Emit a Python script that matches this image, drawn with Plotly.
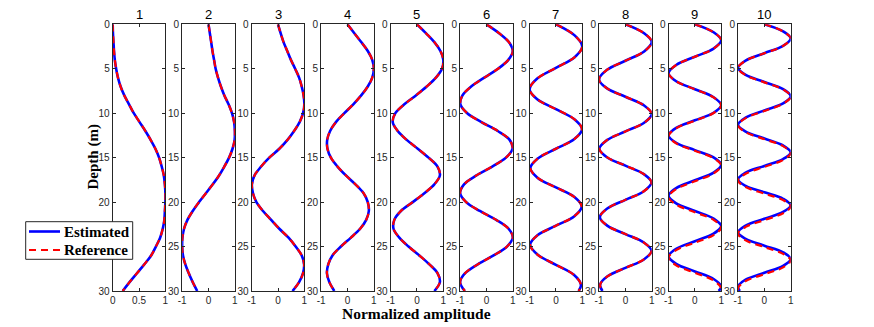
import plotly.graph_objects as go
from plotly.subplots import make_subplots

# depth grid (m) used for the low-order modes
depth_1m = [0, 1, 2, 3, 4, 5, 6, 7, 8, 9, 10, 11, 12, 13, 14, 15, 16, 17, 18, 19, 20,
            21, 22, 23, 24, 25, 26, 27, 28, 29, 30]

# normalized mode amplitudes
mode1 = [0, 0.005, 0.015, 0.025, 0.04, 0.065, 0.1, 0.15, 0.22, 0.31, 0.4, 0.51, 0.62, 0.72, 0.81,
         0.88, 0.93, 0.97, 0.99, 1.0, 1.0, 0.99, 0.98, 0.95, 0.9, 0.82, 0.73, 0.6, 0.46, 0.32, 0.19]
mode2 = [0, 0.05, 0.1, 0.15, 0.21, 0.27, 0.36, 0.47, 0.6, 0.76, 0.89, 0.97, 1.0, 0.99, 0.91,
         0.78, 0.6, 0.4, 0.16, -0.1, -0.36, -0.6, -0.8, -0.93, -0.99, -1.0, -0.97, -0.88, -0.75, -0.6, -0.43]
mode3 = [0, 0.1, 0.21, 0.35, 0.49, 0.65, 0.8, 0.9, 0.97, 1.0, 0.95, 0.82, 0.61, 0.36, 0.05,
         -0.33, -0.64, -0.89, -0.99, -0.95, -0.82, -0.57, -0.26, 0.05, 0.4, 0.67, 0.9, 0.99, 0.95, 0.8, 0.55]
mode4 = [0, 0.26, 0.52, 0.77, 0.94, 1.0, 0.94, 0.77, 0.52, 0.22, -0.12, -0.44, -0.66, -0.77, -0.76,
         -0.63, -0.38, -0.06, 0.3, 0.61, 0.77, 0.81, 0.71, 0.48, 0.13, -0.25, -0.57, -0.73, -0.78, -0.69, -0.5]
mode5 = [0, 0.34, 0.66, 0.89, 1.0, 0.95, 0.72, 0.37, -0.04, -0.48, -0.82, -0.92, -0.73, -0.39, 0.03,
         0.44, 0.78, 0.87, 0.66, 0.28, -0.16, -0.61, -0.86, -0.89, -0.67, -0.32, 0.09, 0.47, 0.78, 0.87, 0.66]
mode6 = [0, 0.48, 0.85, 1.0, 0.83, 0.44, -0.08, -0.58, -0.91, -0.99, -0.73, -0.19, 0.43, 0.88, 0.99,
         0.74, 0.22, -0.38, -0.85, -1.0, -0.77, -0.25, 0.37, 0.84, 1.0, 0.78, 0.27, -0.33, -0.81, -1.0, -0.82]

# higher modes: picked at peaks, crossings and half-way points
depth7 = [0, 1.25, 2.5, 3.7, 4.9, 6.1, 7.3, 8.43, 9.55, 10.68, 11.8, 12.9, 14.0, 15.1, 16.2,
          17.28, 18.35, 19.43, 20.5, 21.58, 22.65, 23.73, 24.8, 25.93, 27.05, 28.18, 29.3, 30]
mode7 = [0, 0.71, 1.0, 0.71, 0, -0.71, -1.0, -0.71, 0, 0.7, 0.99, 0.7, 0, -0.69, -0.97,
         -0.69, 0, 0.7, 0.98, 0.7, 0, -0.7, -0.98, -0.69, 0, 0.68, 0.95, 0.86]

depth8 = [0, 1.0, 2.0, 3.05, 4.1, 5.15, 6.2, 7.18, 8.15, 9.13, 10.1, 11.08, 12.05, 13.03, 14.0,
          14.95, 15.9, 16.85, 17.8, 18.78, 19.75, 20.73, 21.7, 22.65, 23.6, 24.55, 25.5, 26.45,
          27.4, 28.35, 29.3, 30]
mode8 = [0, 0.71, 1.0, 0.71, 0, -0.71, -1.0, -0.71, 0, 0.71, 1.0, 0.71, 0, -0.7, -0.99,
         -0.7, 0, 0.7, 0.99, 0.7, 0, -0.69, -0.97, -0.69, 0, 0.7, 0.99, 0.7,
         0, -0.68, -0.96, -0.87]

depth9 = [0, 0.9, 1.8, 2.73, 3.65, 4.58, 5.5, 6.4, 7.3, 8.2, 9.1, 9.95, 10.8, 11.65, 12.5,
          13.33, 14.15, 14.98, 15.8, 16.68, 17.55, 18.43, 19.3, 20.15, 21.0, 21.85, 22.7,
          23.55, 24.4, 25.25, 26.1, 26.95, 27.8, 28.65, 29.5, 30]
mode9 = [0, 0.71, 1.0, 0.71, 0, -0.71, -1.0, -0.71, 0, 0.71, 1.0, 0.71, 0, -0.71, -1.0,
         -0.71, 0, 0.71, 1.0, 0.71, 0, -0.71, -1.0, -0.71, 0, 0.71, 1.0,
         0.71, 0, -0.71, -1.0, -0.71, 0, 0.71, 1.0, 0.9]
depth9_ref = [0, 0.9, 1.8, 2.73, 3.65, 4.58, 5.5, 6.41, 7.31, 8.22, 9.12, 9.98, 10.84, 11.7, 12.56,
              13.39, 14.22, 15.05, 15.88, 16.77, 17.66, 18.54, 19.43, 20.29, 21.14, 22.0, 22.86,
              23.71, 24.56, 25.41, 26.26, 27.11, 27.96, 28.81, 29.66, 30]
mode9_ref = [0, 0.71, 1.0, 0.71, 0, -0.71, -1.0, -0.71, 0, 0.71, 1.0, 0.71, 0, -0.71, -1.0,
             -0.71, 0, 0.71, 1.0, 0.71, 0, -0.71, -1.0, -0.71, 0, 0.71, 1.0,
             0.71, 0, -0.71, -1.0, -0.71, 0, 0.71, 1.0, 0.96]

depth10 = [0, 0.8, 1.6, 2.43, 3.25, 4.08, 4.9, 5.7, 6.5, 7.3, 8.1, 8.9, 9.7, 10.5, 11.3,
           12.08, 12.85, 13.63, 14.4, 15.16, 15.93, 16.69, 17.45, 18.18, 18.9, 19.63, 20.35,
           21.11, 21.88, 22.64, 23.4, 24.15, 24.9, 25.65, 26.4, 27.18, 27.95, 28.73, 29.5, 30]
mode10 = [0, 0.71, 1.0, 0.71, 0, -0.71, -1.0, -0.71, 0, 0.71, 1.0, 0.71, 0, -0.71, -1.0,
          -0.71, 0, 0.71, 1.0, 0.71, 0, -0.71, -1.0, -0.71, 0, 0.71, 1.0,
          0.71, 0, -0.71, -1.0, -0.71, 0, 0.71, 1.0, 0.71, 0, -0.71, -1.0, -0.93]
depth10_ref = [0, 0.8, 1.6, 2.43, 3.26, 4.09, 4.92, 5.72, 6.53, 7.33, 8.13, 8.94, 9.75, 10.55, 11.36,
               12.14, 12.92, 13.7, 14.49, 15.26, 16.04, 16.81, 17.58, 18.31, 19.04, 19.77, 20.5,
               21.26, 22.02, 22.79, 23.55, 24.31, 25.06, 25.82, 26.57, 27.34, 28.11, 28.88, 29.65, 30]
mode10_ref = [0, 0.71, 1.0, 0.71, 0, -0.71, -1.0, -0.71, 0, 0.71, 1.0, 0.71, 0, -0.71, -1.0,
              -0.71, 0, 0.71, 1.0, 0.71, 0, -0.71, -1.0, -0.71, 0, 0.71, 1.0,
              0.71, 0, -0.71, -1.0, -0.71, 0, 0.71, 1.0, 0.71, 0, -0.71, -1.0, -0.97]

# (depth, amplitude) per mode
estimated = [
    (depth_1m, mode1), (depth_1m, mode2), (depth_1m, mode3), (depth_1m, mode4),
    (depth_1m, mode5), (depth_1m, mode6), (depth7, mode7), (depth8, mode8),
    (depth9, mode9), (depth10, mode10),
]
reference = [
    (depth_1m, mode1), (depth_1m, mode2), (depth_1m, mode3), (depth_1m, mode4),
    (depth_1m, mode5), (depth_1m, mode6), (depth7, mode7), (depth8, mode8),
    (depth9_ref, mode9_ref), (depth10_ref, mode10_ref),
]
panel_titles = ["1", "2", "3", "4", "5", "6", "7", "8", "9", "10"]
legend_labels = ["Estimated", "Reference"]

W, H = 874, 327
left0, step, pw = 112.7, 69.48, 52.7
top_px, bot_px = 24.3, 291.0

BLUE, RED = "#0000FF", "#FF0000"
RED_DASH = "7px,5px"
axcol = "#262626"
serif = "Liberation Serif, Times New Roman"
tickfont = dict(family="Liberation Sans, Arial", size=10, color=axcol)


def px(x, y):
    # pixel position -> paper coordinates
    return x / W, 1 - y / H


fig = make_subplots(rows=1, cols=10)

for i in range(10):
    dz, ez = estimated[i]
    dr, rz = reference[i]
    fig.add_trace(go.Scatter(x=ez, y=dz, mode="lines", name=legend_labels[0],
                             line=dict(color=BLUE, width=2.6, shape="spline", smoothing=1.0),
                             showlegend=False), row=1, col=i + 1)
    fig.add_trace(go.Scatter(x=rz, y=dr, mode="lines", name=legend_labels[1],
                             line=dict(color=RED, width=2.2, dash=RED_DASH,
                                       shape="spline", smoothing=1.0),
                             showlegend=False), row=1, col=i + 1)

    x0 = (left0 + i * step) / W
    x1 = (left0 + i * step + pw) / W
    if i == 0:
        xr, tv, tt = [0, 1], [0, 0.5, 1], ["0", "0.5", "1"]
    else:
        xr, tv, tt = [-1, 1], [-1, 0, 1], ["-1", "0", "1"]
    fig.update_xaxes(domain=[x0, x1], range=xr, tickvals=tv, ticktext=tt,
                     showgrid=False, zeroline=False, showline=True, linecolor=axcol,
                     linewidth=1, mirror="ticks", ticks="inside", ticklen=3,
                     tickcolor=axcol, tickfont=tickfont, automargin=False, row=1, col=i + 1)
    fig.update_yaxes(domain=[1 - bot_px / H, 1 - top_px / H], range=[30, 0],
                     tickvals=[0, 5, 10, 15, 20, 25, 30],
                     showgrid=False, zeroline=False, showline=True, linecolor=axcol,
                     linewidth=1, mirror="ticks", ticks="inside", ticklen=3,
                     tickcolor=axcol, tickfont=tickfont, automargin=False, row=1, col=i + 1)
    fig.add_annotation(text=panel_titles[i], x=(x0 + x1) / 2, y=1 - 14 / H,
                       xref="paper", yref="paper", xanchor="center", yanchor="middle",
                       showarrow=False,
                       font=dict(family="Liberation Sans, Arial", size=13, color="black"))

# axis labels (ylabel of panel 1, xlabel of panel 5)
fig.add_annotation(text="<b>Depth (m)</b>", x=93 / W, y=1 - 157.5 / H, xref="paper",
                   yref="paper", xanchor="center", yanchor="middle", showarrow=False,
                   textangle=-90, font=dict(family=serif, size=15, color="black"))
fig.add_annotation(text="<b>Normalized amplitude</b>", x=(left0 + 4 * step + pw / 2) / W,
                   y=1 - 313 / H, xref="paper", yref="paper", xanchor="center",
                   yanchor="middle", showarrow=False,
                   font=dict(family=serif, size=15.5, color="black"))

# legend box drawn by hand to get the compact MATLAB look
bx0, by0 = px(25.7, 221.7)
bx1, by1 = px(132.7, 259.3)
fig.add_shape(type="rect", xref="paper", yref="paper", x0=bx0, y0=by0, x1=bx1, y1=by1,
              fillcolor="white", line=dict(color=axcol, width=1), layer="above")
for k, (col, dash, yy) in enumerate([(BLUE, "solid", 231.5), (RED, RED_DASH, 250)]):
    lx0, ly = px(29, yy)
    lx1, _ = px(60, yy)
    fig.add_shape(type="line", xref="paper", yref="paper", x0=lx0, x1=lx1, y0=ly, y1=ly,
                  line=dict(color=col, width=2.6 if k == 0 else 2.2, dash=dash), layer="above")
    tx, ty = px(62, yy)
    fig.add_annotation(text="<b>%s</b>" % legend_labels[k], x=tx, y=ty, xref="paper",
                       yref="paper", xanchor="left", yanchor="middle", showarrow=False,
                       font=dict(family=serif, size=15, color="black"))

fig.update_layout(
    width=W, height=H,
    margin=dict(l=0, r=0, t=0, b=0),
    paper_bgcolor="white", plot_bgcolor="white",
    showlegend=False,
)

fig.write_html("out.html", config={"displayModeBar": False},
               post_script="document.body.style.margin='0';")
